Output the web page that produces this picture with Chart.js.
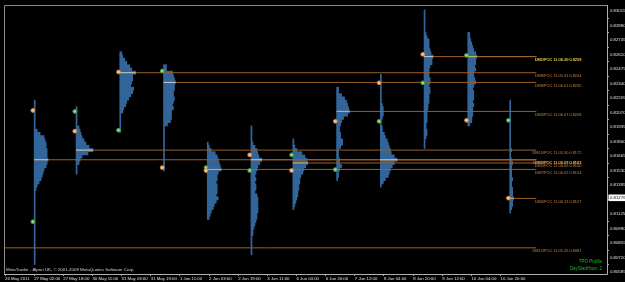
<!DOCTYPE html>
<html><head><meta charset="utf-8">
<script src="https://cdn.jsdelivr.net/npm/chart.js@4/dist/chart.umd.min.js"></script>
<style>html,body{margin:0;padding:0;background:#000;overflow:hidden}#wrap{width:625px;height:282px;position:relative}</style>
</head><body><div id="wrap"><canvas id="c"></canvas></div>
<script>
// ---- tick labels ----
const dateTickBars = [0,16,32,48,64,80,96,112,128,144,160,176,192,208,224,240,256,272];
const dateTickLabels = ["26 May 2011","27 May 02:00","27 May 18:00","30 May 11:00","31 May 03:00","31 May 19:00","1 Jun 11:00","2 Jun 03:00","2 Jun 19:00","3 Jun 11:00","6 Jun 04:00","6 Jun 20:00","7 Jun 12:00","8 Jun 04:00","8 Jun 20:00","9 Jun 12:00","10 Jun 04:00","10 Jun 20:00"];
const priceTicks = [0.80585,0.80720,0.80855,0.80990,0.81125,0.81395,0.81530,0.81665,0.81800,0.81935,0.82070,0.82205,0.82340,0.82475,0.82610,0.82745,0.82880,0.83015];
const lastPrice = 0.81276;

// ---- daily TPO profiles ----
const dayNames   = ["DM11","DM10","DM9","DM8","DM7","DM6","DM5","DM4","DM3","DM2","DM1","DM0"];
const dayDates   = ["11.05.27","11.05.30","11.05.31","11.06.01","11.06.02","11.06.03","11.06.06","11.06.07","11.06.08","11.06.09","11.06.10","11.06.13"];
const dayStartBars = [16,39,63,87,111,135,158,182,206,230,254,277];
const rowStep = 0.0003;
const profileLows = [0.8067,0.8151,0.8190,0.8154,0.8109,0.8076,0.8118,0.8145,0.8139,0.8175,0.8196,0.8115];
const tpo1  = [1,1,1,1,1,1,1,1,1,1,1,1,1,1,1,1,1,1,1,1,1,1,1,2,3,5,7,8,9,10,12,13,14,13,13,13,12,12,11,10,6,3,1,1,1,1,1,1,1,1,1];
const tpo2  = [1,1,1,3,4,6,12,17,13,10,8,6,5,4,3,1,1,1,1,1,1];
const tpo3  = [1,1,1,1,1,1,3,4,6,7,9,11,13,14,11,12,13,13,16,12,10,7,5,3,2];
const tpo4  = [1,1,1,1,1,1,1,1,1,1,1,1,1,1,4,7,8,8,8,10,9,10,11,10,10,11,11,12,11,10,9,3,3];
const tpo5  = [2,3,4,6,7,9,11,9,10,10,10,9,10,10,11,14,13,12,11,10,8,4,2,1];
const tpo6  = [1,1,1,1,1,1,2,2,3,4,5,6,6,7,7,7,7,7,6,4,5,5,4,5,4,5,6,7,9,11,8,7,6,4,2,1,1,1,1,1];
const tpo7  = [1,2,3,4,5,5,6,6,7,7,8,10,11,13,15,14,12,9,4,2,1,1];
const tpo8  = [1,2,2,3,5,3,3,2,2,2,4,6,6,4,4,3,3,4,5,7,11,13,12,11,10,8,5,2,2];
const tpo9  = [1,3,5,8,9,10,12,14,17,14,11,10,9,8,7,5,4,2,2,1,1,2,3,3,3,2,1,1,1,1,1,1,1,1,1];
const tpo10 = [1,1,1,2,3,3,2,2,3,3,3,3,4,4,5,5,5,6,6,5,6,6,5,5,5,6,8,8,9,7,6,5,5,5,3,2,1,1,1,1,1,1,1];
const tpo11 = [2,4,4,5,5,5,6,5,6,6,6,5,6,8,7,6,6,8,7,8,8,9,8,6,5,4,3,2,2];
const tpo12 = [1,2,3,3,4,3,3,3,2,2,3,2,2,2,2,3,2,1,1,2,1,1,1,1,1,1,1,1,1,1,1,1,1,1,1];
const profiles = [tpo1,tpo2,tpo3,tpo4,tpo5,tpo6,tpo7,tpo8,tpo9,tpo10,tpo11,tpo12];
const pocPrices  = [0.8163,0.8172,0.8244,0.8235,0.8154,0.8163,0.8160,0.8208,0.8163,0.8259,0.8259,0.8127];
const openPrices = [0.81053,0.82080,0.81905,0.82456,0.81557,0.81530,0.81676,0.81539,0.81988,0.82346,0.82602,0.81997];
const closePrices= [0.82089,0.81896,0.82447,0.81557,0.81530,0.81676,0.81530,0.81988,0.82346,0.82611,0.81997,0.81273];
// earlier day whose profile is off the chart
const oldPocName = "DM12", oldPocDate = "11.05.26", oldPocPrice = 0.8081;

// ---- styling ----
const tpoBars = 1 / 1.831;          // one TPO drawn about one pixel wide
const pocLineEndBar = 291.6;
const profileColor = '#32659a';
const pocLineColor = '#9c5e2a';
const pocLabelColor = '#c48642';
const highlightColors = ['#c4cccc','#ccd2d2','#c8cece','#c4cccc','#bfbf58','#c4cccc','#bfbf58','#bfbf58','#c4cccc','#c4cccc','#bfbf58','#d09a6a'];
const lineColors = pocPrices.map((p,i)=> i===10 ? '#b4b43a' : pocLineColor);
const labelColors = pocPrices.map((p,i)=> i===10 ? '#d2d24c' : pocLabelColor);
const FONT = '"Liberation Sans", Arial, sans-serif';

const r5 = v => Math.round(v*100000)/100000;
const datasets = [];
profiles.forEach((counts, k) => {
  const s = dayStartBars[k];
  datasets.push({
    type:'bar', indexAxis:'y', grouped:false, barPercentage:1, categoryPercentage:1,
    backgroundColor: profileColor, borderWidth:0, order:4,
    data: counts.map((c,i)=>({y: r5(profileLows[k] + i*rowStep), x:[s, s + c*tpoBars]}))
  });
});
// POC lines
datasets.push({type:'line', order:3, borderColor:pocLineColor, borderWidth:1, pointRadius:0,
  data:[{x:-5,y:oldPocPrice},{x:pocLineEndBar,y:oldPocPrice}]});
pocPrices.forEach((p,k)=>{
  datasets.push({type:'line', order:3, borderColor:lineColors[k], borderWidth:1, pointRadius:0,
    data:[{x:dayStartBars[k],y:p},{x:pocLineEndBar,y:p}]});
  const w = Math.max(...profiles[k]);
  datasets.push({type:'line', order:2, borderColor:highlightColors[k], borderWidth:1, pointRadius:0,
    data:[{x:dayStartBars[k],y:p},{x:dayStartBars[k]+w*tpoBars,y:p}]});
});
// open / close markers
datasets.push({type:'scatter', order:1, pointRadius:1.9, borderWidth:1, borderColor:'#3a9a3a', backgroundColor:'#9ad492',
  data: dayStartBars.map((b,i)=>({x:b-0.7, y:openPrices[i]}))});
datasets.push({type:'scatter', order:0, pointRadius:1.9, borderWidth:1, borderColor:'#d8843a', backgroundColor:'#f2c49a',
  data: dayStartBars.map((b,i)=>({x:b-0.7, y:closePrices[i]}))});

const overlay = {
  id:'overlay',
  beforeDraw(chart){
    const {ctx} = chart;
    ctx.save(); ctx.fillStyle = '#000'; ctx.fillRect(0,0,chart.width,chart.height); ctx.restore();
  },
  afterDraw(chart){
    const {ctx, chartArea:a, scales:{x,y}} = chart;
    ctx.save();
    // frame
    ctx.strokeStyle = '#8a8a8a'; ctx.lineWidth = 1;
    ctx.beginPath();
    ctx.moveTo(a.left-0.5, a.bottom+0.5); ctx.lineTo(a.left-0.5, a.top+0.5); ctx.lineTo(a.right+0.5, a.top+0.5);
    ctx.stroke();
    ctx.strokeStyle = '#b0b0b0';
    ctx.beginPath();
    ctx.moveTo(a.right+0.5, a.top); ctx.lineTo(a.right+0.5, a.bottom+0.5); ctx.lineTo(a.left-1, a.bottom+0.5);
    ctx.stroke();
    // POC labels
    ctx.font = '3.9px ' + FONT; ctx.textAlign = 'right'; ctx.textBaseline = 'top';
    const lx = x.getPixelForValue(pocLineEndBar) + 45;
    ctx.fillStyle = pocLabelColor;
    ctx.fillText(oldPocName + '/POC ' + oldPocDate + ' ' + oldPocPrice.toFixed(4), lx, y.getPixelForValue(oldPocPrice) + 1.2);
    pocPrices.forEach((p,k)=>{
      ctx.fillStyle = labelColors[k];
      ctx.fillText(dayNames[k] + '/POC ' + dayDates[k] + ' ' + p.toFixed(4), lx, y.getPixelForValue(p) + 1.2);
    });
    // copyright
    ctx.textAlign = 'left'; ctx.textBaseline = 'middle';
    ctx.font = '4.4px ' + FONT; ctx.fillStyle = '#d0d0d0';
    ctx.fillText('MetaTrader - Alpari UK, \u00A9 2001-2009 MetaQuotes Software Corp.', a.left + 1, a.bottom - 4);
    // indicator captions
    ctx.textAlign = 'right'; ctx.fillStyle = '#19c219'; ctx.font = '4.5px ' + FONT;
    ctx.fillText('TPO Profile', a.right - 5, a.bottom - 12);
    ctx.fillText('DayStartHour: 2', a.right - 5, a.bottom - 5);
    // current price box
    const py = y.getPixelForValue(lastPrice);
    ctx.fillStyle = '#ffffff'; ctx.fillRect(a.right + 1.5, py - 3.3, 18, 6.6);
    ctx.fillStyle = '#000000'; ctx.textAlign = 'left'; ctx.font = '4.3px ' + FONT;
    ctx.fillText(lastPrice.toFixed(5), a.right + 3, py + 0.2);
    ctx.restore();
  }
};

new Chart(document.getElementById('c'), {
  type:'scatter',
  data:{datasets},
  options:{
    responsive:true, maintainAspectRatio:false, animation:false, devicePixelRatio:1,
    layout:{padding:{left:2, top:1, right:0, bottom:0}},
    plugins:{legend:{display:false}, tooltip:{enabled:false}},
    events:[],
    scales:{
      x:{type:'linear', position:'bottom', min:0, max:330.4, offset:false, beginAtZero:false,
        afterBuildTicks: s => { s.ticks = dateTickBars.map(v=>({value:v})); },
        afterFit: s => { s.height = 8; },
        grid:{drawOnChartArea:false, drawTicks:true, tickLength:2, color:'#a0a0a0'},
        border:{display:false},
        ticks:{autoSkip:false, maxRotation:0, minRotation:0, align:'start', padding:0, color:'#e0e0e0',
          font:{family:FONT, size:4.3}, callback:(v,i)=>dateTickLabels[i]}
      },
      y:{type:'linear', position:'right', min:0.805667, max:0.830703, offset:false, beginAtZero:false,
        afterBuildTicks: s => { s.ticks = priceTicks.map(v=>({value:v})); },
        afterFit: s => { s.width = 18; },
        grid:{drawOnChartArea:false, drawTicks:true, tickLength:2, color:'#a0a0a0'},
        border:{display:false},
        ticks:{autoSkip:false, padding:1, color:'#e0e0e0', font:{family:FONT, size:4.3},
          callback:v=>Number(v).toFixed(5)}
      }
    }
  },
  plugins:[overlay]
});
</script></body></html>
